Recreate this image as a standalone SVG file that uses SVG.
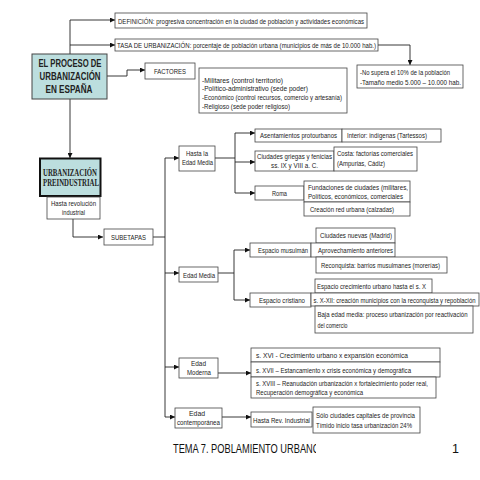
<svg xmlns="http://www.w3.org/2000/svg" width="480" height="480" viewBox="0 0 480 480">
<style>
.box{fill:#fff;stroke:#444;stroke-width:0.8}
.teal{fill:#bcdede;stroke:#444;stroke-width:1}
.t{font-family:"Liberation Sans",Arial,sans-serif;font-size:7.4px;fill:#222}
.c{text-anchor:middle}
.hb{font-family:"Liberation Sans",Arial,sans-serif;font-size:10.5px;font-weight:bold;fill:#222;text-anchor:middle}
.sb{font-family:"Liberation Serif","Times New Roman",serif;font-size:9.5px;font-weight:bold;fill:#222;text-anchor:middle}
.ln{fill:none;stroke:#222;stroke-width:0.9}
.ft{font-family:"Liberation Sans",Arial,sans-serif;font-size:12.5px;fill:#111}
</style>
<defs>
<marker id="ar" viewBox="0 0 6 6" refX="6" refY="3" markerWidth="5" markerHeight="5" orient="auto" markerUnits="userSpaceOnUse">
<path d="M0,0 L6,3 L0,6 z" fill="#111"/>
</marker>
<clipPath id="clipT"><rect x="160" y="430" width="156" height="30"/></clipPath>
</defs>
<rect width="480" height="480" fill="#fff"/>

<g id="connectors">
<path class="ln" d="M70,20 V158" marker-end="url(#ar)"/>
<path class="ln" d="M70,20 H115" marker-end="url(#ar)"/>
<path class="ln" d="M70,45 H115" marker-end="url(#ar)"/>
<path class="ln" d="M378,45 H410 V65" marker-end="url(#ar)"/>
<path class="ln" d="M107,76 H127 V70 H145" marker-end="url(#ar)"/>
<path class="ln" d="M73,219 V237 H103" marker-end="url(#ar)"/>
<path class="ln" d="M153,237 H165"/>
<path class="ln" d="M165,158 V417"/>
<path class="ln" d="M165,158 H179" marker-end="url(#ar)"/>
<path class="ln" d="M165,273 H179" marker-end="url(#ar)"/>
<path class="ln" d="M165,367 H179" marker-end="url(#ar)"/>
<path class="ln" d="M165,417 H175" marker-end="url(#ar)"/>
<path class="ln" d="M215,158 H235"/>
<path class="ln" d="M235,133 V193"/>
<path class="ln" d="M235,133 H255" marker-end="url(#ar)"/>
<path class="ln" d="M235,162 H255" marker-end="url(#ar)"/>
<path class="ln" d="M235,193 H255" marker-end="url(#ar)"/>
<path class="ln" d="M218,273 H234"/>
<path class="ln" d="M234,250 V300"/>
<path class="ln" d="M234,250 H250" marker-end="url(#ar)"/>
<path class="ln" d="M234,300 H250" marker-end="url(#ar)"/>
<path class="ln" d="M218,373 H251" marker-end="url(#ar)"/>
<path class="ln" d="M222,417 H251" marker-end="url(#ar)"/>
</g>

<g id="main">
<rect class="teal" x="32" y="54" width="75" height="45"/>
<text class="hb" x="70" y="67" textLength="63" lengthAdjust="spacingAndGlyphs">EL PROCESO DE</text>
<text class="hb" x="70" y="80" textLength="61" lengthAdjust="spacingAndGlyphs">URBANIZACIÓN</text>
<text class="hb" x="69" y="93" textLength="47" lengthAdjust="spacingAndGlyphs">EN ESPAÑA</text>
</g>

<g id="definicion">
<rect class="box" x="115" y="13" width="252" height="15"/>
<text class="t" x="118" y="23.5" textLength="246" lengthAdjust="spacingAndGlyphs">DEFINICIÓN: progresiva concentración en la ciudad de población y actividades económicas</text>
</g>

<g id="tasa">
<rect class="box" x="115" y="39" width="263" height="12"/>
<text class="t" x="117" y="48" textLength="259" lengthAdjust="spacingAndGlyphs">TASA DE URBANIZACIÓN: porcentaje de población urbana (municipios de más de 10.000 hab.)</text>
</g>

<g id="nosupera">
<rect class="box" x="357" y="65" width="106" height="23"/>
<text class="t" x="360" y="75" textLength="90" lengthAdjust="spacingAndGlyphs">-No supera el 10% de la población</text>
<text class="t" x="360" y="84.5" textLength="101" lengthAdjust="spacingAndGlyphs">-Tamaño medio 5.000 – 10.000 hab.</text>
</g>

<g id="factores">
<rect class="box" x="145" y="63" width="50" height="16"/>
<text class="t c" x="170" y="74" textLength="32" lengthAdjust="spacingAndGlyphs">FACTORES</text>
</g>

<g id="factores-list">
<rect class="box" x="199" y="68" width="148" height="45"/>
<text class="t" x="202" y="82.5" textLength="81" lengthAdjust="spacingAndGlyphs">-Militares (control territorio)</text>
<text class="t" x="202" y="91" textLength="106" lengthAdjust="spacingAndGlyphs">-Político-administrativo (sede poder)</text>
<text class="t" x="202" y="99.5" textLength="140" lengthAdjust="spacingAndGlyphs">-Económico (control recursos, comercio y artesanía)</text>
<text class="t" x="202" y="108.5" textLength="88" lengthAdjust="spacingAndGlyphs">-Religioso (sede poder religioso)</text>
</g>

<g id="preindustrial">
<rect x="40" y="158.5" width="60.5" height="37.5" fill="#bcdede" stroke="#111" stroke-width="2"/>
<text class="sb" x="70" y="175.5" textLength="54" lengthAdjust="spacingAndGlyphs">URBANIZACIÓN</text>
<text class="sb" x="71" y="186" textLength="56" lengthAdjust="spacingAndGlyphs">PREINDUSTRIAL</text>
</g>

<g id="hasta-revolucion">
<rect class="box" x="47" y="197" width="53" height="22"/>
<text class="t c" x="73.5" y="205.5" textLength="45" lengthAdjust="spacingAndGlyphs">Hasta revolución</text>
<text class="t c" x="73.5" y="214.5" textLength="23" lengthAdjust="spacingAndGlyphs">industrial</text>
</g>

<g id="subetapas">
<rect class="box" x="104" y="229" width="49" height="16"/>
<text class="t c" x="128.5" y="240" textLength="35" lengthAdjust="spacingAndGlyphs">SUBETAPAS</text>
</g>

<g id="hasta-edad-media">
<rect class="box" x="179" y="146" width="36" height="25"/>
<text class="t c" x="197" y="156" textLength="22" lengthAdjust="spacingAndGlyphs">Hasta la</text>
<text class="t c" x="197.5" y="165" textLength="31" lengthAdjust="spacingAndGlyphs">Edad Media</text>
</g>

<g id="asentamientos">
<rect class="box" x="255" y="129" width="87" height="13"/>
<text class="t" x="260" y="138" textLength="77" lengthAdjust="spacingAndGlyphs">Asentamientos protourbanos</text>
<rect class="box" x="342" y="129" width="99" height="13"/>
<text class="t" x="347" y="138" textLength="80" lengthAdjust="spacingAndGlyphs">Interior: indígenas (Tartessos)</text>
</g>

<g id="griegas">
<rect class="box" x="255" y="151" width="79" height="20"/>
<text class="t c" x="294.5" y="159" textLength="75" lengthAdjust="spacingAndGlyphs">Ciudades griegas y fenicias</text>
<text class="t c" x="294.5" y="168" textLength="47" lengthAdjust="spacingAndGlyphs">ss. IX y VIII a. C.</text>
<rect class="box" x="334" y="147" width="83" height="24"/>
<text class="t" x="337" y="156" textLength="76" lengthAdjust="spacingAndGlyphs">Costa: factorías comerciales</text>
<text class="t" x="337" y="165.5" textLength="48" lengthAdjust="spacingAndGlyphs">(Ampurias, Cádiz)</text>
</g>

<g id="roma">
<rect class="box" x="255" y="186" width="49" height="14"/>
<text class="t c" x="279.5" y="195.5" textLength="15" lengthAdjust="spacingAndGlyphs">Roma</text>
<rect class="box" x="304" y="181" width="106" height="21"/>
<text class="t" x="308" y="189.5" textLength="100" lengthAdjust="spacingAndGlyphs">Fundaciones de ciudades (militares,</text>
<text class="t" x="308" y="199" textLength="95" lengthAdjust="spacingAndGlyphs">Políticos, económicos, comerciales</text>
<rect class="box" x="304" y="202" width="106" height="14"/>
<text class="t" x="310" y="211.5" textLength="84" lengthAdjust="spacingAndGlyphs">Creación red urbana (calzadas)</text>
</g>

<g id="edad-media">
<rect class="box" x="179" y="267" width="39" height="15"/>
<text class="t c" x="199" y="277.5" textLength="32" lengthAdjust="spacingAndGlyphs">Edad Media</text>
</g>

<g id="musulman">
<rect class="box" x="316" y="228" width="79" height="15"/>
<text class="t" x="320" y="238" textLength="72" lengthAdjust="spacingAndGlyphs">Ciudades nuevas (Madrid)</text>
<rect class="box" x="250" y="243" width="61" height="14"/>
<text class="t" x="258" y="252.5" textLength="50" lengthAdjust="spacingAndGlyphs">Espacio musulmán</text>
<rect class="box" x="311" y="243" width="84" height="14"/>
<text class="t" x="318" y="252.5" textLength="75" lengthAdjust="spacingAndGlyphs">Aprovechamiento anteriores</text>
<rect class="box" x="316" y="257" width="131" height="16"/>
<text class="t" x="321" y="267.5" textLength="119" lengthAdjust="spacingAndGlyphs">Reconquista: barrios musulmanes (morerías)</text>
</g>

<g id="cristiano">
<rect class="box" x="315" y="279" width="117" height="14"/>
<text class="t" x="317" y="288.5" textLength="109" lengthAdjust="spacingAndGlyphs">Espacio crecimiento urbano hasta el s. X</text>
<rect class="box" x="250" y="293" width="61" height="14"/>
<text class="t" x="259" y="302.5" textLength="46" lengthAdjust="spacingAndGlyphs">Espacio cristiano</text>
<rect class="box" x="311" y="293" width="168" height="13"/>
<text class="t" x="313.5" y="302.5" textLength="162" lengthAdjust="spacingAndGlyphs">s. X-XII: creación municipios con la reconquista y repoblación</text>
<rect class="box" x="315" y="306" width="158" height="27"/>
<text class="t" x="317.5" y="317" textLength="150" lengthAdjust="spacingAndGlyphs">Baja edad media: proceso urbanización por reactivación</text>
<text class="t" x="317.5" y="327.5" textLength="30" lengthAdjust="spacingAndGlyphs">del comercio</text>
</g>

<g id="edad-moderna">
<rect class="box" x="179" y="358" width="39" height="20"/>
<text class="t c" x="198.5" y="366" textLength="15" lengthAdjust="spacingAndGlyphs">Edad</text>
<text class="t c" x="199" y="375" textLength="24" lengthAdjust="spacingAndGlyphs">Moderna</text>
</g>

<g id="moderna-list">
<rect class="box" x="251" y="348" width="189" height="14"/>
<text class="t" x="256" y="358" textLength="152" lengthAdjust="spacingAndGlyphs">s. XVI - Crecimiento urbano x expansión económica</text>
<rect class="box" x="251" y="362" width="189" height="15"/>
<text class="t" x="256" y="372.5" textLength="155" lengthAdjust="spacingAndGlyphs">s. XVII – Estancamiento x crisis económica y demográfica</text>
<rect class="box" x="251" y="377" width="185" height="21"/>
<text class="t" x="256" y="386" textLength="172" lengthAdjust="spacingAndGlyphs">s. XVIII – Reanudación urbanización x fortalecimiento poder real,</text>
<text class="t" x="256" y="395" textLength="107" lengthAdjust="spacingAndGlyphs">Recuperación demográfica y económica</text>
</g>

<g id="edad-contemporanea">
<rect class="box" x="175" y="408" width="47" height="20"/>
<text class="t c" x="197" y="415.5" textLength="16" lengthAdjust="spacingAndGlyphs">Edad</text>
<text class="t c" x="198.5" y="425" textLength="43" lengthAdjust="spacingAndGlyphs">contemporánea</text>
</g>

<g id="contemporanea-list">
<rect class="box" x="251" y="412" width="61" height="15"/>
<text class="t" x="253" y="422.5" textLength="57" lengthAdjust="spacingAndGlyphs">Hasta Rev. Industrial</text>
<rect class="box" x="313" y="407" width="107" height="26"/>
<text class="t" x="316" y="417.5" textLength="99" lengthAdjust="spacingAndGlyphs">Sólo ciudades capitales de provincia</text>
<text class="t" x="316" y="428" textLength="96" lengthAdjust="spacingAndGlyphs">Tímido inicio tasa urbanización 24%</text>
</g>

<g id="footer">
<text class="ft" x="173" y="453" textLength="147" lengthAdjust="spacingAndGlyphs" clip-path="url(#clipT)">TEMA 7. POBLAMIENTO URBANO</text>
<text class="ft" x="452" y="453">1</text>
</g>
</svg>
